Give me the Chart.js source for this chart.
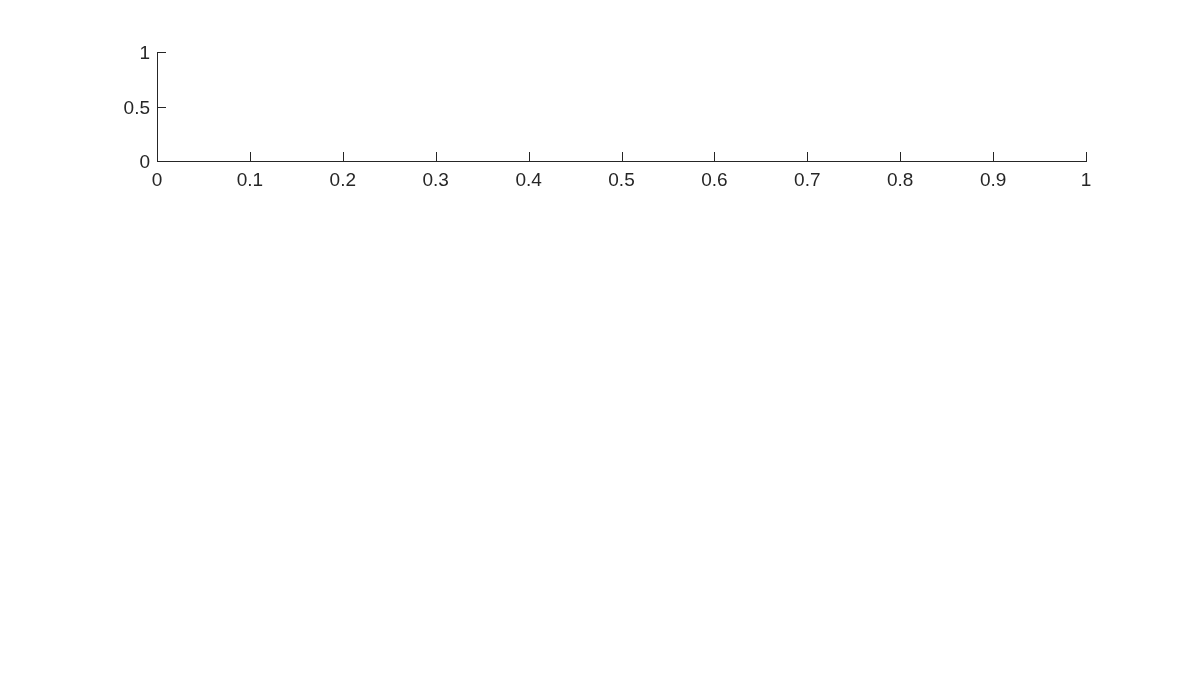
<!DOCTYPE html>
<html>
<head>
<meta charset="utf-8">
<script src="https://cdn.jsdelivr.net/npm/chart.js@4"></script>
<style>
  html, body { margin: 0; padding: 0; background: #fff; }
  #wrap { width: 1200px; height: 700px; }
</style>
</head>
<body>
<div id="wrap"><canvas id="chart" width="1200" height="700"></canvas></div>
<script>
// empty axes, as in the reference: no plotted series
const seriesX = [];
const seriesY = [];
const xTickValues = [0, 0.1, 0.2, 0.3, 0.4, 0.5, 0.6, 0.7, 0.8, 0.9, 1];
const yTickValues = [0, 0.5, 1];

const axisColor = '#262626';
const TICK_LEN = 9;

// MATLAB-style ticks pointing into the plot area
const inwardTicks = {
    id: 'inwardTicks',
    afterDraw(chart) {
        const ctx = chart.ctx;
        const area = chart.chartArea;
        const xs = chart.scales.x;
        const ys = chart.scales.y;
        ctx.save();
        ctx.strokeStyle = axisColor;
        ctx.lineWidth = 1;
        ctx.beginPath();
        for (const t of xs.ticks) {
            const px = Math.round(xs.getPixelForValue(t.value)) + 0.5;
            ctx.moveTo(px, area.bottom);
            ctx.lineTo(px, area.bottom - TICK_LEN);
        }
        for (const t of ys.ticks) {
            const py = Math.round(ys.getPixelForValue(t.value)) + 0.5;
            ctx.moveTo(area.left, py);
            ctx.lineTo(area.left + TICK_LEN, py);
        }
        ctx.stroke();
        ctx.restore();
    }
};

const tickFont = { family: 'Liberation Sans, Arial, sans-serif', size: 19 };

const ctx = document.getElementById('chart').getContext('2d');
new Chart(ctx, {
    type: 'scatter',
    data: {
        datasets: [{
            data: seriesX.map((x, i) => ({ x, y: seriesY[i] })),
            borderColor: '#0072bd',
            backgroundColor: '#0072bd'
        }]
    },
    options: {
        responsive: false,
        animation: false,
        layout: { padding: { top: 52, right: 114, left: 0, bottom: 0 } },
        plugins: { legend: { display: false }, tooltip: { enabled: false } },
        scales: {
            x: {
                type: 'linear',
                min: 0,
                max: 1,
                afterBuildTicks: (scale) => { scale.ticks = xTickValues.map(v => ({ value: v })); },
                afterFit: (scale) => { scale.height = 539; },
                grid: { display: false, drawTicks: false },
                border: { display: true, color: axisColor, width: 1 },
                ticks: {
                    color: axisColor,
                    padding: 8,
                    maxRotation: 0,
                    autoSkip: false,
                    font: tickFont,
                    callback: (v) => String(Math.round(v * 10) / 10)
                }
            },
            y: {
                type: 'linear',
                min: 0,
                max: 1,
                afterBuildTicks: (scale) => { scale.ticks = yTickValues.map(v => ({ value: v })); },
                afterFit: (scale) => { scale.width = 157; },
                grid: { display: false, drawTicks: false },
                border: { display: true, color: axisColor, width: 1 },
                ticks: {
                    color: axisColor,
                    padding: 7,
                    labelOffset: 2,
                    autoSkip: false,
                    font: tickFont,
                    callback: (v) => String(v)
                }
            }
        }
    },
    plugins: [inwardTicks]
});
</script>
</body>
</html>
